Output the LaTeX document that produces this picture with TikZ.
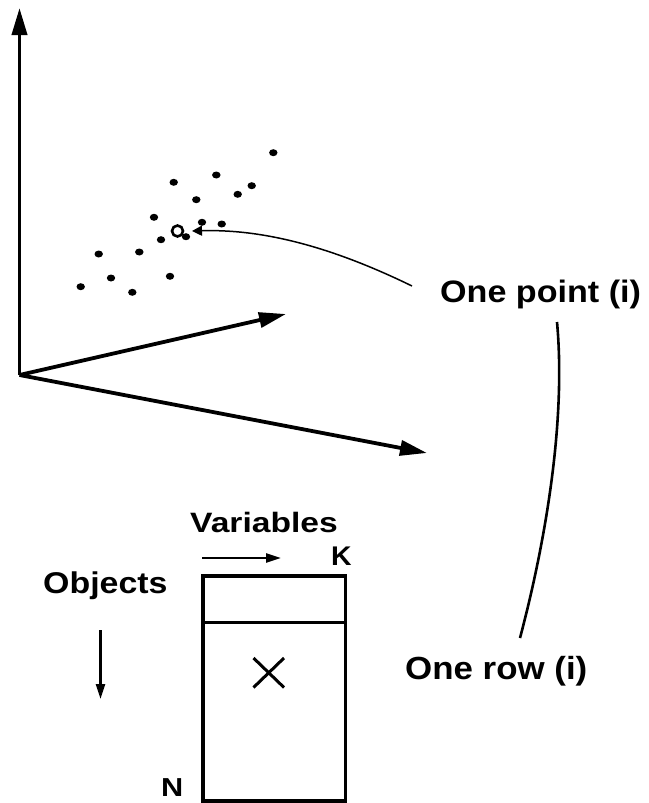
\documentclass[tikz,border=0pt]{standalone}
\usepackage{fontspec}
\setmainfont{Liberation Sans}
\usetikzlibrary{arrows.meta}
\tikzset{
  axis/.style={line width=3.8pt, -{Triangle[length=27pt,width=15pt]}},
  smallarrow/.style={line width=2.6pt, -{Triangle[length=15pt,width=9pt]}},
  dot/.style={fill=black, draw=none},
  lbl/.style={inner sep=0pt, anchor=base west},
  boxline/.style={line width=3.4pt},
}
\begin{document}
\begin{tikzpicture}[x=1pt,y=-1pt]
\useasboundingbox (0,0) rectangle (648,803);
% axes
\coordinate (O) at (19.5,375);
\coordinate (ytop) at (19.5,8);
\coordinate (a1) at (286,314);
\coordinate (a2) at (427,453);
\draw[axis] (O) -- (ytop);
\draw[axis] (O) -- (a1);
\draw[axis] (O) -- (a2);
% scatter points
\foreach \x/\y in {273.3/152.7, 216.3/175, 173.7/182.3, 251.7/185.7, 237.7/194.3,
  196.3/199.7, 154/217.3, 202/222.3, 221.7/224, 161/239.7, 186/236.7,
  98.7/254, 139.3/252, 111/278, 170/276.3, 80.7/286.7, 132.3/292.3}
  \fill[dot] (\x,\y) ellipse [x radius=4.2pt, y radius=3.5pt];
\node[draw, circle, line width=2.6pt, minimum size=11pt, inner sep=0pt] (pt) at (177.5,231) {};
% labels
\node[lbl] (onepoint) at (440,302) {\fontsize{31}{31}\selectfont\bfseries\scalebox{1.1}[1]{One point (i)}};
\node[lbl] (onerow) at (405,679) {\fontsize{32}{32}\selectfont\bfseries\scalebox{1.09}[1]{One row (i)}};
\node[lbl] (vars) at (190,532) {\fontsize{28}{28}\selectfont\bfseries\scalebox{1.2}[1]{Variables}};
\node[lbl] (K) at (331,565) {\fontsize{27}{27}\selectfont\bfseries\scalebox{1.05}[1]{K}};
\node[lbl] (objs) at (43,593) {\fontsize{30}{30}\selectfont\bfseries\scalebox{1.13}[1]{Objects}};
\node[lbl] (N) at (161,796) {\fontsize{26}{26}\selectfont\bfseries\scalebox{1.18}[1]{N}};
% connector from "One point" to the open point
\coordinate (c1) at (412,286);
\coordinate (c2) at (192,231);
\draw[line width=1.5pt, -{Triangle[length=10pt,width=10pt]}] (c1) .. controls (330,246) and (262,229) .. (c2);
% connector between "One point" and "One row"
\coordinate (r1) at (557,322);
\coordinate (r2) at (520,638);
\draw[line width=2.6pt] (r1) .. controls (566,420) and (546,540) .. (r2);
% data matrix
\coordinate (va1) at (202,558);
\coordinate (va2) at (281,558);
\draw[smallarrow] (va1) -- (va2);
\coordinate (ob1) at (100.5,630);
\coordinate (ob2) at (100.5,699);
\draw[smallarrow] (ob1) -- (ob2);
\draw[boxline] (203,576) rectangle (345.5,801);
\draw[boxline] (203,622.5) -- (345.5,622.5);
\draw[line width=3pt] (253.5,658) -- (284,687.5);
\draw[line width=3pt] (253.5,687.5) -- (284,658);
\end{tikzpicture}
\end{document}
